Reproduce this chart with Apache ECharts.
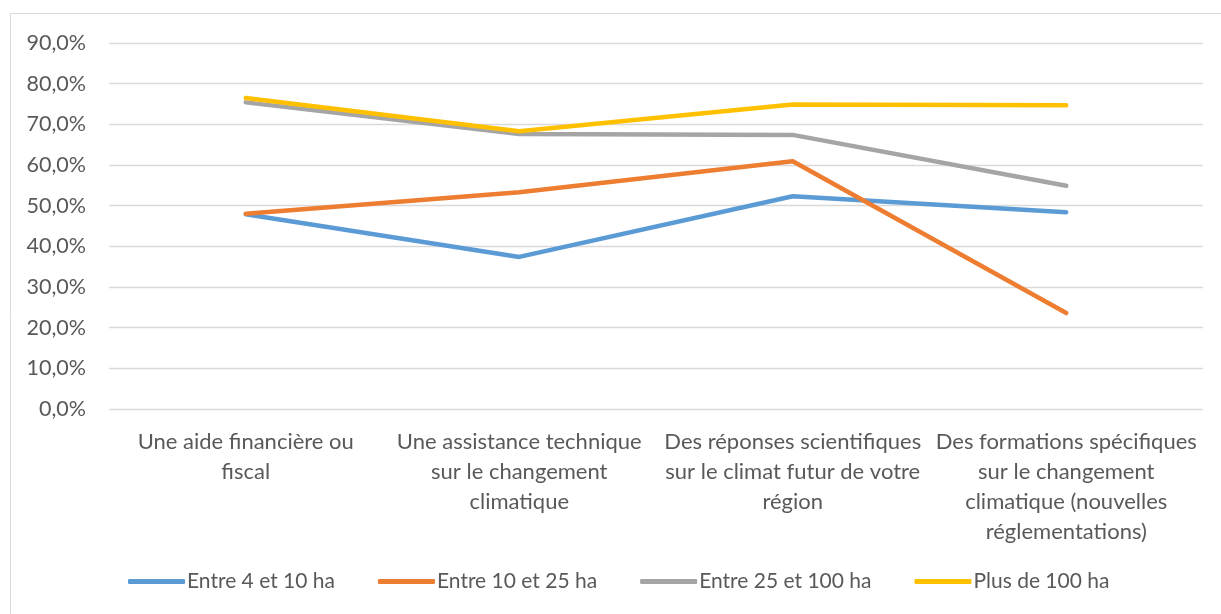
<!DOCTYPE html>
<html>
<head>
<meta charset="utf-8">
<script src="https://cdn.jsdelivr.net/npm/echarts@6/dist/echarts.min.js"></script>
<style>
html,body{margin:0;padding:0;background:#fff;}
#c{width:1221px;height:614px;}
</style>
</head>
<body>
<div id="c"></div>
<script>
const categories = [
  "Une aide financière ou\nfiscal",
  "Une assistance technique\nsur le changement\nclimatique",
  "Des réponses scientifiques\nsur le climat futur de votre\nrégion",
  "Des formations spécifiques\nsur le changement\nclimatique (nouvelles\nréglementations)"
];
const seriesNames = ["Entre 4 et 10 ha", "Entre 10 et 25 ha", "Entre 25 et 100 ha", "Plus de 100 ha"];
const entre4et10 = [47.9, 37.4, 52.3, 48.4];
const entre10et25 = [48.0, 53.3, 60.9, 23.6];
const entre25et100 = [75.4, 67.6, 67.4, 54.9];
const plusDe100 = [76.5, 68.3, 74.9, 74.7];
const colors = ["#5B9BD5", "#ED7D31", "#A5A5A5", "#FFC000"];

const allData = [entre4et10, entre10et25, entre25et100, plusDe100];
const font = "Lato, 'Open Sans', sans-serif";
const chart = echarts.init(document.getElementById('c'));
chart.setOption({
  animation: false,
  backgroundColor: '#ffffff',
  graphic: [{
    type: 'rect', shape: {x: 10.5, y: 13.5, width: 1230, height: 620},
    style: {fill: 'none', stroke: '#D9D9D9', lineWidth: 1}, silent: true, z: -1
  }],
  grid: {left: 109, right: 18, top: 43, bottom: 205, containLabel: false},
  legend: {
    data: seriesNames.map((n, i) => ({name: n, icon: 'roundRect', itemStyle: {color: colors[i]}})),
    bottom: 17, left: 123,
    itemWidth: 57, itemHeight: 5, itemGap: 43,
    textStyle: {fontFamily: font, fontSize: 21, color: '#595959', padding: [0, 0, 0, -3]}
  },
  xAxis: {
    type: 'category', data: categories, boundaryGap: true,
    axisLine: {show: false}, axisTick: {show: false},
    axisLabel: {interval: 0, fontFamily: font, fontSize: 22, color: '#595959', lineHeight: 30, margin: 18}
  },
  yAxis: {
    type: 'value', min: 0, max: 90, interval: 10,
    axisLine: {show: false}, axisTick: {show: false},
    splitLine: {lineStyle: {color: '#D9D9D9', width: 1.3}},
    axisLabel: {fontFamily: font, fontSize: 21.5, color: '#595959', margin: 23,
      formatter: v => v.toFixed(1).replace('.', ',') + '%'}
  },
  series: allData.map((d, i) => ({
    name: seriesNames[i], type: 'line', data: d,
    symbol: 'none', color: colors[i],
    lineStyle: {width: 4.5, color: colors[i], cap: 'round', join: 'round'}
  }))
});
</script>
</body>
</html>
